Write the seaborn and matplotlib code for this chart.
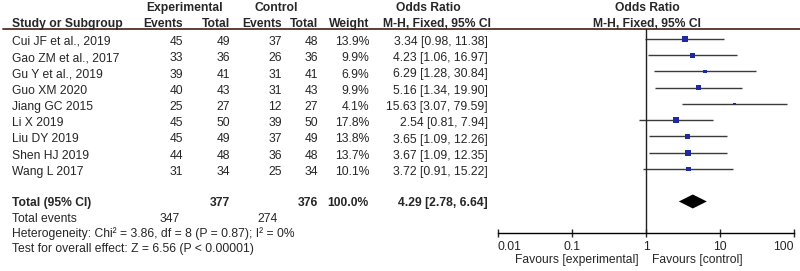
import matplotlib
matplotlib.use("Agg")
import matplotlib.pyplot as plt
import seaborn as sns
import numpy as np
import pandas as pd

# study data
studies = ["Cui JF et al., 2019", "Gao ZM et al., 2017", "Gu Y et al., 2019",
           "Guo XM 2020", "Jiang GC 2015", "Li X 2019", "Liu DY 2019",
           "Shen HJ 2019", "Wang L 2017"]
exp_events = [45, 33, 39, 40, 25, 45, 45, 44, 31]
exp_total = [49, 36, 41, 43, 27, 50, 49, 48, 34]
ctl_events = [37, 26, 31, 31, 12, 39, 37, 36, 25]
ctl_total = [48, 36, 41, 43, 27, 50, 49, 48, 34]
weights = [13.9, 9.9, 6.9, 9.9, 4.1, 17.8, 13.8, 13.7, 10.1]
odds = [3.34, 4.23, 6.29, 5.16, 15.63, 2.54, 3.65, 3.67, 3.72]
ci_low = [0.98, 1.06, 1.28, 1.34, 3.07, 0.81, 1.09, 1.09, 0.91]
ci_high = [11.38, 16.97, 30.84, 19.90, 79.59, 7.94, 12.26, 12.35, 15.22]

total_or = [4.29, 2.78, 6.64]
total_n = [377, 376]
total_ev = [347, 274]
x_ticks = [0.01, 0.1, 1, 10, 100]
x_tick_labels = ["0.01", "0.1", "1", "10", "100"]

df = pd.DataFrame({"study": studies, "weight": weights, "or": odds,
                   "lo": ci_low, "hi": ci_high})
df["row"] = np.arange(len(df))

sns.set_style("white")
plt.rcParams["font.family"] = ["Liberation Sans", "DejaVu Sans"]
fs = 8.7

fig = plt.figure(figsize=(8, 2.71), dpi=100)

# background axes in pixel units for the table text
bg = fig.add_axes([0, 0, 1, 1])
bg.set_xlim(0, 800)
bg.set_ylim(271, 0)
bg.axis("off")

line_col = "#5e4034"
bg.plot([3, 800], [29, 29], color=line_col, lw=1.4)

# headers
bold = dict(va="center", fontsize=fs, fontweight="bold")
bg.text(185, 8, "Experimental", ha="center", **bold)
bg.text(276, 8, "Control", ha="center", **bold)
bg.text(428, 8, "Odds Ratio", ha="center", **bold)
bg.text(647, 8, "Odds Ratio", ha="center", **bold)
bg.text(12, 24, "Study or Subgroup", ha="left", **bold)
for xx, lab in [(183, "Events"), (230, "Total"), (282, "Events"), (318, "Total"), (369, "Weight")]:
    bg.text(xx, 24, lab, ha="right", **bold)
bg.text(437, 24, "M-H, Fixed, 95% CI", ha="center", **bold)
bg.text(647, 24, "M-H, Fixed, 95% CI", ha="center", **bold)

# study rows
for i in range(len(studies)):
    y = 42 + 16.25 * i
    bg.text(12, y, studies[i], ha="left", va="center", fontsize=fs)
    bg.text(183, y, str(exp_events[i]), ha="right", va="center", fontsize=fs)
    bg.text(230, y, str(exp_total[i]), ha="right", va="center", fontsize=fs)
    bg.text(282, y, str(ctl_events[i]), ha="right", va="center", fontsize=fs)
    bg.text(318, y, str(ctl_total[i]), ha="right", va="center", fontsize=fs)
    bg.text(369, y, f"{weights[i]:.1f}%", ha="right", va="center", fontsize=fs)
    bg.text(488, y, f"{odds[i]:.2f} [{ci_low[i]:.2f}, {ci_high[i]:.2f}]",
            ha="right", va="center", fontsize=fs)

# totals
yt = 42 + 16.25 * 9.9
bg.text(12, yt, "Total (95% CI)", ha="left", **bold)
bg.text(230, yt, str(total_n[0]), ha="right", **bold)
bg.text(318, yt, str(total_n[1]), ha="right", **bold)
bg.text(369, yt, "100.0%", ha="right", **bold)
bg.text(488, yt, f"{total_or[0]:.2f} [{total_or[1]:.2f}, {total_or[2]:.2f}]",
        ha="right", **bold)
bg.text(12, 219, "Total events", ha="left", va="center", fontsize=fs)
bg.text(180, 219, str(total_ev[0]), ha="right", va="center", fontsize=fs)
bg.text(278, 219, str(total_ev[1]), ha="right", va="center", fontsize=fs)
bg.text(12, 234, "Heterogeneity: Chi² = 3.86, df = 8 (P = 0.87); I² = 0%",
        ha="left", va="center", fontsize=fs)
bg.text(12, 249, "Test for overall effect: Z = 6.56 (P < 0.00001)",
        ha="left", va="center", fontsize=fs)
bg.text(639, 260, "Favours [experimental]", ha="right", va="center", fontsize=fs)
bg.text(652, 260, "Favours [control]", ha="left", va="center", fontsize=fs)

# forest plot axes
ax = fig.add_axes([498 / 800, (271 - 233) / 271, 296 / 800, 204 / 271])
ax.patch.set_alpha(0)
ax.set_xscale("log")
ax.set_xlim(0.01, 100)
ax.set_ylim(11.94, -0.615)

ax.hlines(df["row"], df["lo"], df["hi"], color="#3a3a3a", lw=1)
sns.scatterplot(data=df, x="or", y="row", size="weight", sizes=(4, 22),
                size_norm=(4, 18), marker="s", color="#1f2a9c", edgecolor="none",
                legend=False, ax=ax, zorder=3)
# pooled diamond
yd = 10
ax.fill([total_or[1], total_or[0], total_or[2], total_or[0]],
        [yd, yd - 0.43, yd, yd + 0.43], color="black", lw=0)
ax.axvline(1, color="#222222", lw=1)

for s in ["top", "right", "left"]:
    ax.spines[s].set_visible(False)
ax.spines["bottom"].set_color("black")
ax.spines["bottom"].set_linewidth(1)
ax.set_xticks(x_ticks)
ax.set_xticklabels(x_tick_labels)
ax.minorticks_off()
ax.tick_params(axis="x", direction="inout", length=6, width=1, pad=3,
               labelsize=fs, bottom=True)
tl = ax.get_xticklabels()
tl[0].set_horizontalalignment("left")
tl[-1].set_horizontalalignment("right")
ax.set_yticks([])
ax.set_xlabel("")
ax.set_ylabel("")

fig.savefig("out.png", dpi=100)
